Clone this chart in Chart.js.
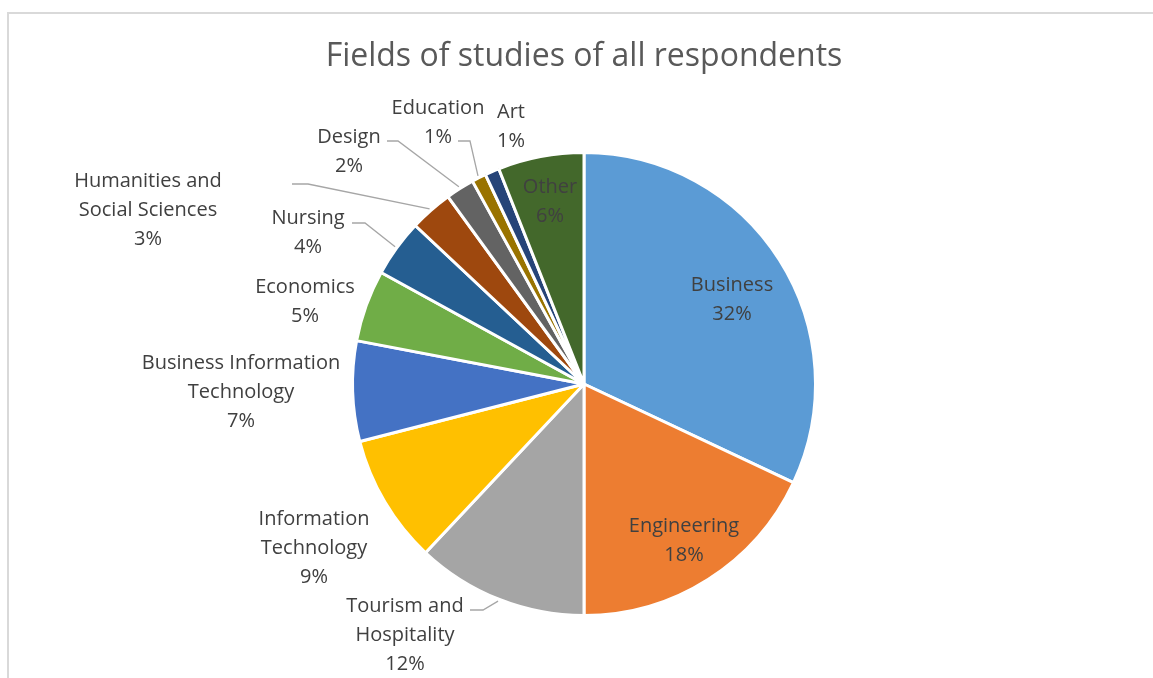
<!DOCTYPE html>
<html>
<head>
<meta charset="utf-8">
<script src="https://cdn.jsdelivr.net/npm/chart.js@4.4.1/dist/chart.umd.min.js"></script>
<style>
    html, body { margin: 0; padding: 0; background: #fff; }
    #wrap { width: 1153px; height: 678px; }
</style>
</head>
<body>
<div id="wrap"><canvas id="fieldsChart" width="1153" height="678"></canvas></div>
<script>
// 各专业占比
const categories = [
    "Business", "Engineering", "Tourism and Hospitality", "Information Technology",
    "Business Information Technology", "Economics", "Nursing",
    "Humanities and Social Sciences", "Design", "Education", "Art", "Other",
];
const shares = [32, 18, 12, 9, 7, 5, 4, 3, 2, 1, 1, 6];
const sliceColors = [
    "#5B9BD5", "#ED7D31", "#A5A5A5", "#FFC000", "#4472C4", "#70AD47",
    "#255E91", "#9E480E", "#636363", "#997300", "#264478", "#43682B",
];
const chartTitle = "Fields of studies of all respondents";

// 标签位置：相对饼图圆心的像素偏移（文字块中心），wrap 为换行宽度
// leader: [短横线起点x, 短横线终点x, y]，同样相对圆心
const labelSpots = [
    { dx: 148, dy: -84, wrap: 400 },
    { dx: 100, dy: 157, wrap: 400 },
    { dx: -179, dy: 251, wrap: 180, leader: [-114, -101, 226] },
    { dx: -270, dy: 164, wrap: 180 },
    { dx: -343, dy: 8, wrap: 250 },
    { dx: -279, dy: -82, wrap: 400 },
    { dx: -276, dy: -151, wrap: 400, leader: [-232, -219, -161] },
    { dx: -436, dy: -174, wrap: 180, leader: [-292, -276, -200] },
    { dx: -235, dy: -232, wrap: 400, leader: [-197, -186, -243] },
    { dx: -146, dy: -261, wrap: 400, leader: [-126, -114, -243] },
    { dx: -73, dy: -257, wrap: 400 },
    { dx: -34, dy: -182, wrap: 400 },
];

const LABEL_FONT = '20px "Open Sans"';
const LINE_HEIGHT = 29;

function wrapWords(ctx, text, maxWidth) {
    const words = text.split(" ");
    const lines = [];
    let cur = "";
    words.forEach((w) => {
        const test = cur ? cur + " " + w : w;
        if (cur && ctx.measureText(test).width > maxWidth) {
            lines.push(cur);
            cur = w;
        } else {
            cur = test;
        }
    });
    if (cur) lines.push(cur);
    return lines;
}

// 背景边框和标题
const framePlugin = {
    id: "framePlugin",
    beforeDraw(chart) {
        const { ctx, width } = chart;
        ctx.save();
        ctx.fillStyle = "#fff";
        ctx.fillRect(0, 0, width, chart.height);
        ctx.strokeStyle = "#D9D9D9";
        ctx.lineWidth = 2;
        ctx.strokeRect(8, 13, width + 20, chart.height + 20);
        ctx.fillStyle = "#595959";
        ctx.font = '32px "Open Sans"';
        ctx.textAlign = "center";
        ctx.textBaseline = "middle";
        const cx = chart.getDatasetMeta(0).data[0].x;
        ctx.fillText(chartTitle, cx, 57);
        ctx.restore();
    },
};

// 数据标签和引导线
const sliceLabelPlugin = {
    id: "sliceLabelPlugin",
    afterDatasetsDraw(chart) {
        const { ctx } = chart;
        const arcs = chart.getDatasetMeta(0).data;
        ctx.save();
        ctx.font = LABEL_FONT;
        ctx.textAlign = "center";
        ctx.textBaseline = "middle";
        arcs.forEach((arc, i) => {
            const spot = labelSpots[i];
            const cx = arc.x, cy = arc.y;
            const lines = wrapWords(ctx, categories[i], spot.wrap);
            lines.push(shares[i] + "%");
            const top = cy + spot.dy - (LINE_HEIGHT * (lines.length - 1)) / 2;
            ctx.fillStyle = "#404040";
            lines.forEach((line, k) => {
                ctx.fillText(line, cx + spot.dx, top + k * LINE_HEIGHT);
            });

            if (spot.leader) {
                const mid = (arc.startAngle + arc.endAngle) / 2;
                const r = arc.outerRadius + 2;
                const [x1, x2, ly] = spot.leader;
                ctx.beginPath();
                ctx.strokeStyle = "#A6A6A6";
                ctx.lineWidth = 1.3;
                ctx.moveTo(cx + x1, cy + ly);
                ctx.lineTo(cx + x2, cy + ly);
                ctx.lineTo(cx + r * Math.cos(mid), cy + r * Math.sin(mid));
                ctx.stroke();
            }
        });
        ctx.restore();
    },
};

new Chart(document.getElementById("fieldsChart").getContext("2d"), {
    type: "pie",
    data: {
        labels: categories,
        datasets: [
            {
                data: shares,
                backgroundColor: sliceColors,
                borderColor: "#fff",
                borderWidth: 3,
                hoverOffset: 0,
            },
        ],
    },
    options: {
        responsive: false,
        animation: false,
        layout: {
            padding: { top: 151, bottom: 61, left: 351, right: 336 },
        },
        plugins: {
            legend: { display: false },
            tooltip: { enabled: false },
            title: { display: false },
        },
    },
    plugins: [framePlugin, sliceLabelPlugin],
});
</script>
</body>
</html>
